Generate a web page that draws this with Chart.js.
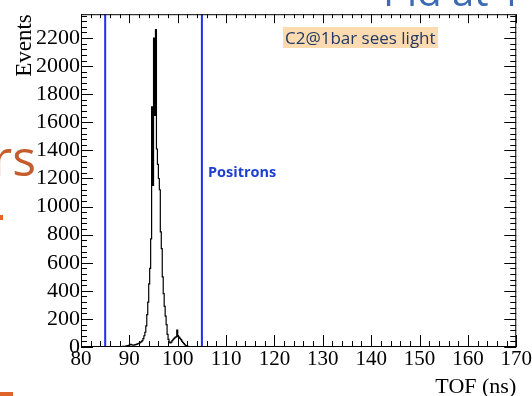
<!DOCTYPE html>
<html>
<head>
<meta charset="utf-8">
<title>TOF</title>
<script src="https://cdn.jsdelivr.net/npm/chart.js@4.4.1/dist/chart.umd.min.js"></script>
<style>
  html, body { margin: 0; padding: 0; background: #fff; }
  #wrap { position: relative; width: 532px; height: 396px; overflow: hidden; }
  #wrap canvas { position: absolute; left: 0; top: 0; }
  .note { position: absolute; white-space: nowrap; }
  #slideTitle { left: 383px; top: -29px; font: 40px/40px "Open Sans", sans-serif; color: #3b6cb3; }
  #slideWord { right: 496px; top: 132px; font: 50px/50px "Open Sans", sans-serif; color: #c65b2c; }
  .mark { position: absolute; background: #e0642a; }
  #c2Label { left: 283px; top: 27px; height: 21px; padding: 0 2px; background: #fcdbb0;
             font: 17px/21px "Open Sans", sans-serif; color: #1f3864; }
  #posLabel { left: 208px; top: 163px; font: bold 14.5px/18px "Open Sans", sans-serif; color: #1f3fd0; }
</style>
</head>
<body>
<div id="wrap">
  <canvas id="tofChart" width="532" height="396"></canvas>
  <div class="note" id="slideTitle">Pid at 1</div>
  <div class="note" id="slideWord">rs</div>
  <div class="mark" style="left:0;top:215px;width:3px;height:5px"></div>
  <div class="mark" style="left:0;top:392px;width:13px;height:4px"></div>
  <div class="note" id="c2Label">C2@1bar sees light</div>
  <div class="note" id="posLabel">Positrons</div>
</div>
<script>
// histogram of time of flight, 0.2 ns bins starting at 86 ns
const binLow = 86.0;
const binWidth = 0.2;
const counts = [
  0, 0, 1, 0, 1, 1, 0, 2, 1, 2,                      // 86 - 88
  2, 3, 2, 4, 3, 5, 6, 8, 10, 12,                    // 88 - 90
  15, 18, 16, 14, 13, 15, 17, 19, 22, 25,            // 90 - 92
  28, 32, 38, 45, 60, 80, 105, 150, 230, 320,        // 92 - 94
  450, 560, 770, 1710, 1150, 2200, 1650, 2260, 1410, 1300, // 94 - 96
  1200, 1120, 820, 700, 500, 380, 290, 220, 160, 90, // 96 - 98
  55, 35, 30, 35, 45, 55, 62, 68, 72, 120,           // 98 - 100
  75, 70, 62, 52, 42, 32, 24, 16, 10, 6,             // 100 - 102
  4, 3, 2, 2, 1, 1, 0, 1, 0, 0                       // 102 - 104
];

const xRange = [80, 170];
const yRange = [0, 2370];
const xTicks = [80, 90, 100, 110, 120, 130, 140, 150, 160, 170];
const yTicks = [0, 200, 400, 600, 800, 1000, 1200, 1400, 1600, 1800, 2000, 2200];
const cutLines = [85, 105];   // positron window (ns)

const serif = "'Liberation Serif', 'Times New Roman', serif";

// step points: each bin value sits at its low edge
const histPoints = [{ x: xRange[0], y: 0 }];
counts.forEach((c, i) => histPoints.push({ x: binLow + i * binWidth, y: c }));
histPoints.push({ x: binLow + counts.length * binWidth, y: 0 });
histPoints.push({ x: xRange[1], y: 0 });

// ROOT style frame: box + inward ticks on every side
const rootFrame = {
  id: 'rootFrame',
  afterDatasetsDraw(chart) {
    const { ctx, chartArea: a, scales: { x, y } } = chart;
    ctx.save();
    ctx.strokeStyle = '#000';
    ctx.lineWidth = 1;
    ctx.strokeRect(a.left + 0.5, a.top + 0.5, a.width - 1, a.height - 1);
    ctx.beginPath();
    const xStep = xTicks[1] - xTicks[0];
    for (let v = xRange[0]; v <= xRange[1] + 1e-6; v += xStep / 5) {
      const px = Math.round(x.getPixelForValue(v)) + 0.5;
      const major = Math.abs(v / xStep - Math.round(v / xStep)) < 1e-6;
      ctx.moveTo(px, a.bottom); ctx.lineTo(px, a.bottom - (major ? 12 : 6));
      ctx.moveTo(px, a.top); ctx.lineTo(px, a.top + (major ? 9 : 4));
    }
    const yStep = yTicks[1] - yTicks[0];
    for (let v = yRange[0]; v <= yRange[1]; v += yStep / 5) {
      const py = Math.round(y.getPixelForValue(v)) + 0.5;
      const major = v % yStep === 0;
      ctx.moveTo(a.left, py); ctx.lineTo(a.left + (major ? 12 : 6), py);
      ctx.moveTo(a.right, py); ctx.lineTo(a.right - (major ? 12 : 6), py);
    }
    ctx.stroke();
    ctx.restore();
  }
};

const datasets = [{
  data: histPoints,
  borderColor: '#000',
  borderWidth: 1.2,
  stepped: true,
  pointRadius: 0,
  fill: false
}];
cutLines.forEach(t => datasets.push({
  data: [{ x: t, y: yRange[0] }, { x: t, y: yRange[1] }],
  borderColor: '#1e2ff0',
  borderWidth: 2,
  pointRadius: 0,
  fill: false
}));

new Chart(document.getElementById('tofChart'), {
  type: 'line',
  data: { datasets },
  options: {
    responsive: false,
    animation: false,
    layout: { padding: { top: 11, right: 12, left: 0, bottom: 0 } },
    plugins: { legend: { display: false }, tooltip: { enabled: false } },
    scales: {
      x: {
        type: 'linear',
        min: xRange[0],
        max: xRange[1],
        grid: { display: false, drawTicks: false },
        border: { display: false },
        afterBuildTicks: s => { s.ticks = xTicks.map(v => ({ value: v })); },
        afterFit: s => { s.height = 49; },
        ticks: { color: '#000', font: { family: serif, size: 21 }, padding: 0, maxRotation: 0,
                 autoSkip: false, callback: v => String(v) },
        title: { display: true, text: 'TOF (ns)', align: 'end', color: '#000',
                 font: { family: serif, size: 22 }, padding: { top: 0, bottom: -4 } }
      },
      y: {
        type: 'linear',
        min: yRange[0],
        max: yRange[1],
        grid: { display: false, drawTicks: false },
        border: { display: false },
        afterBuildTicks: s => { s.ticks = yTicks.map(v => ({ value: v })); },
        afterFit: s => { s.width = 81; },
        ticks: { color: '#000', font: { family: serif, size: 22 }, padding: 1,
                 autoSkip: false, callback: v => String(v) },
        title: { display: true, text: 'Events', align: 'end', color: '#000',
                 font: { family: serif, size: 23 }, padding: { top: 11, bottom: 0 } }
      }
    }
  },
  plugins: [rootFrame]
});
</script>
</body>
</html>
